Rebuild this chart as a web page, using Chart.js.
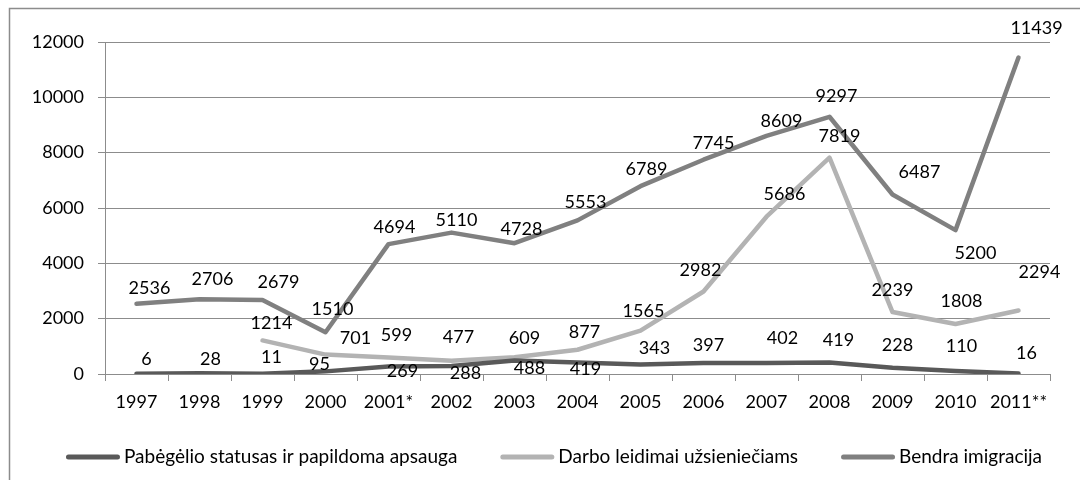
<!DOCTYPE html>
<html>
<head>
<meta charset="utf-8">
<script src="https://cdn.jsdelivr.net/npm/chart.js@4.4.1/dist/chart.umd.min.js"></script>
<style>
  html, body { margin: 0; padding: 0; background: #fff; }
  #wrap { position: relative; width: 1080px; height: 480px; }
  canvas { display: block; }
</style>
</head>
<body>
<div id="wrap"><canvas id="c" width="1080" height="480"></canvas></div>
<script>
const categories = ['1997','1998','1999','2000','2001*','2002','2003','2004','2005','2006','2007','2008','2009','2010','2011**'];
const seriesNames = ['Pabėgėlio statusas ir papildoma apsauga', 'Darbo leidimai užsieniečiams', 'Bendra imigracija'];
const refugeeStatus = [6, 28, 11, 95, 269, 288, 488, 419, 343, 397, 402, 419, 228, 110, 16];
const workPermits = [null, null, 1214, 701, 599, 477, 609, 877, 1565, 2982, 5686, 7819, 2239, 1808, 2294];
const totalImmigration = [2536, 2706, 2679, 1510, 4694, 5110, 4728, 5553, 6789, 7745, 8609, 9297, 6487, 5200, 11439];
const yTicks = [0, 2000, 4000, 6000, 8000, 10000, 12000];

const FONT = 'Lato, "Open Sans", sans-serif';
const FS = 18;

// label placement offsets (px) relative to each point, per dataset
const labelOffsets = [
  [[10,-15],[11,-14],[9,-17],[-6,-7],[14,5],[14,7],[15,8],[8,7],[14,-16],[5,-18],[16,-25],[9,-22],[5,-23],[6,-25],[8,-20]],
  [null,null,[9,-17],[30,-16],[8,-22],[7,-24],[10,-19],[7,-18],[3,-20],[-3,-21],[18,-22],[10,-21],[0,-22],[6,-23],[21,-38]],
  [[13,-16],[13,-20],[16,-18],[7,-23],[6,-17],[5,-12],[7,-14],[8,-18],[6,-17],[10,-17],[15,-15],[7,-21],[27,-22],[20,23],[18,-29]]
];

const dataLabelPlugin = {
  id: 'dataLabelPlugin',
  afterDatasetsDraw(chart) {
    const ctx = chart.ctx;
    ctx.save();
    ctx.font = FS + 'px ' + FONT;
    ctx.fillStyle = '#000';
    ctx.textAlign = 'center';
    ctx.textBaseline = 'middle';
    chart.data.datasets.forEach((ds, di) => {
      const meta = chart.getDatasetMeta(di);
      meta.data.forEach((pt, i) => {
        const v = ds.data[i];
        if (v === null || v === undefined) return;
        const off = labelOffsets[di][i] || [0, -18];
        ctx.fillText(String(v), pt.x + off[0], pt.y + off[1]);
      });
    });
    ctx.restore();
  }
};

// legend drawn below the axis: line swatch + text, items centred
const legendPlugin = {
  id: 'legendPlugin',
  afterDraw(chart) {
    const ctx = chart.ctx;
    const lf = '19px ' + FONT;
    const swatch = 54, textGap = 4, itemGap = 43, y = 457;
    ctx.save();
    ctx.font = lf;
    const items = chart.data.datasets.map(ds => ({ ds, w: ctx.measureText(ds.label).width }));
    const total = items.reduce((s, it) => s + swatch + textGap + it.w, 0) + itemGap * (items.length - 1);
    let x = 554 - total / 2;
    items.forEach(it => {
      ctx.strokeStyle = it.ds.borderColor;
      ctx.lineWidth = 5;
      ctx.lineCap = 'round';
      ctx.beginPath();
      ctx.moveTo(x + 2.5, y);
      ctx.lineTo(x + swatch - 2.5, y);
      ctx.stroke();
      ctx.fillStyle = '#000';
      ctx.textAlign = 'left';
      ctx.textBaseline = 'middle';
      ctx.fillText(it.ds.label, x + swatch + textGap, y);
      x += swatch + textGap + it.w + itemGap;
    });
    ctx.restore();
  }
};

const framePlugin = {
  id: 'framePlugin',
  beforeDraw(chart) {
    const ctx = chart.ctx;
    ctx.save();
    ctx.strokeStyle = '#8c8c8c';
    ctx.lineWidth = 1.5;
    ctx.beginPath();
    ctx.moveTo(9.5, 480);
    ctx.lineTo(9.5, 8.5);
    ctx.lineTo(1080, 8.5);
    ctx.stroke();
    ctx.restore();
  }
};

const colors = ['#595959', '#b3b3b3', '#808080'];
const seriesData = [refugeeStatus, workPermits, totalImmigration];

new Chart(document.getElementById('c'), {
  type: 'line',
  data: {
    labels: categories,
    datasets: seriesNames.map((name, i) => ({
      label: name,
      data: seriesData[i],
      borderColor: colors[i],
      backgroundColor: colors[i],
      borderWidth: 4.5,
      borderCapStyle: 'round',
      borderJoinStyle: 'round',
      pointRadius: 0,
      pointHoverRadius: 0,
      tension: 0,
      spanGaps: false,
      fill: false
    }))
  },
  options: {
    responsive: false,
    animation: false,
    devicePixelRatio: 1,
    layout: { padding: { left: 0, right: 30, top: 42, bottom: 62 } },
    plugins: {
      legend: { display: false },
      tooltip: { enabled: false }
    },
    scales: {
      x: {
        offset: true,
        grid: {
          offset: true,
          drawOnChartArea: false,
          drawTicks: true,
          tickLength: 7,
          color: '#8c8c8c',
          lineWidth: 1
        },
        border: { display: true, color: '#8c8c8c', width: 1 },
        ticks: {
          color: '#000',
          font: { family: FONT, size: FS },
          padding: 10,
          maxRotation: 0,
          autoSkip: false
        },
        afterFit(scale) { scale.height = 44; }
      },
      y: {
        min: 0,
        max: 12000,
        afterBuildTicks(scale) { scale.ticks = yTicks.map(v => ({ value: v })); },
        grid: {
          color: '#8c8c8c',
          lineWidth: 1,
          tickLength: 7
        },
        border: { display: true, color: '#8c8c8c', width: 1 },
        ticks: {
          color: '#000',
          font: { family: FONT, size: FS },
          padding: 14,
          callback: (v) => String(v)
        },
        afterFit(scale) { scale.width = 105; }
      }
    }
  },
  plugins: [framePlugin, dataLabelPlugin, legendPlugin]
});
</script>
</body>
</html>
